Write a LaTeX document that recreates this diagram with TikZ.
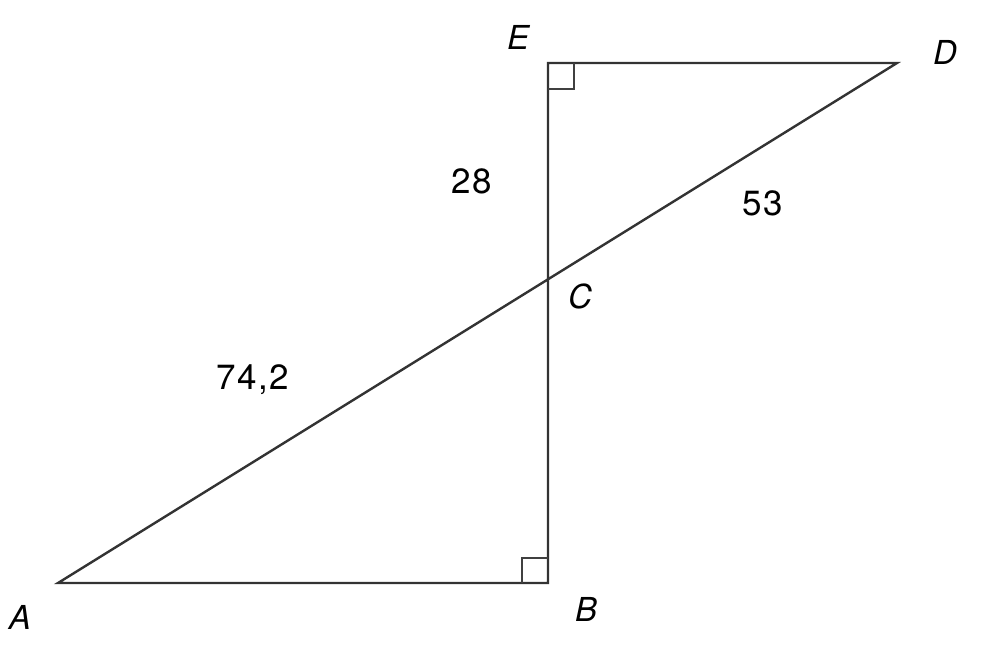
\documentclass[tikz,border=0pt]{standalone}
\usepackage{fontspec}
\setmainfont{TeX Gyre Heros}
\newfontfamily\numfont[LetterSpace=4]{TeX Gyre Heros}
\begin{document}
\begin{tikzpicture}[x=1pt,y=-1pt,
  seg/.style={draw=black!80,line width=2.4pt},
  rmark/.style={draw=black!75,line width=2pt},
  lbl/.style={font=\fontsize{33}{36}\selectfont\itshape,inner sep=0pt},
  num/.style={font=\numfont\fontsize{35}{38}\selectfont,inner sep=0pt}]
\useasboundingbox (0,0) rectangle (990,651);
\coordinate (A) at (58,583);
\coordinate (B) at (548,583);
\coordinate (E) at (548,63);
\coordinate (D) at (897,63);
\coordinate (C) at (548,279.5);
\draw[seg] (A) -- (B) -- (E) -- (D) -- cycle;
\draw[rmark] (548,89) -- (574,89) -- (574,63);
\draw[rmark] (522,583) -- (522,557.5) -- (548,557.5);
\node[lbl] (lE) at (518,37) {E};
\node[lbl] (lD) at (945,52) {D};
\node[lbl] (lC) at (580,296) {C};
\node[lbl] (lB) at (586,609) {B};
\node[lbl] (lA) at (20,617) {A};
\node[num] (n28) at (472,181) {28};
\node[num] (n53) at (763,203) {53};
\node[num] (n742) at (253,380) {74,2};
\end{tikzpicture}
\end{document}
